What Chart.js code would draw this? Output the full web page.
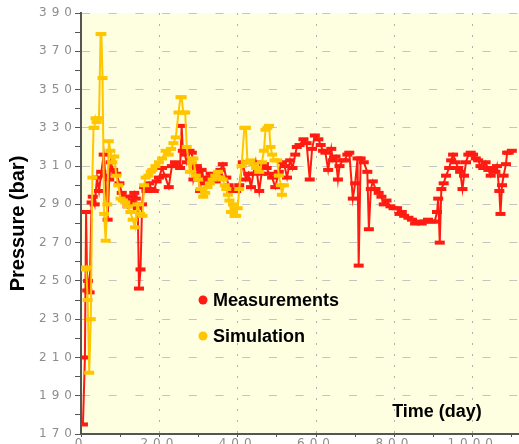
<!DOCTYPE html>
<html><head><meta charset="utf-8">
<script src="https://cdn.jsdelivr.net/npm/chart.js@4/dist/chart.umd.min.js"></script>
<style>
html,body{margin:0;padding:0;background:#fff;overflow:hidden;}
#wrap{position:relative;width:519px;height:444px;overflow:hidden;}
#box{position:absolute;left:0;top:0;width:560px;height:470px;}
</style></head><body>
<div id="wrap"><div id="box"><canvas id="c" width="560" height="470"></canvas></div></div>
<script>
const seriesNames = ['Measurements', 'Simulation'];
const xTitle = 'Time (day)';
const yTitle = 'Pressure (bar)';
const xLabelValues = [0, 200, 400, 600, 800, 1000];
const yLabelValues = [170, 190, 210, 230, 250, 270, 290, 310, 330, 350, 370, 390];

const measDays = [5,10,13,16,18,22,27,30,35,41,46,52,58,62,68,72,76,82,90,98,104,111,119,124,127,132,136,140,145,148,152,156,161,167,174,180,186,193,199,207,214,224,232,240,247,253,257,260,265,270,277,283,287,295,300,304,308,312,318,325,331,337,344,350,356,362,371,377,383,390,396,404,413,421,427,434,440,446,455,461,467,474,480,488,496,505,513,520,526,534,540,547,551,558,568,576,584,590,597,606,612,618,624,631,639,643,650,656,660,668,673,680,685,694,700,706,709,714,722,731,735,740,745,752,760,767,773,780,790,798,807,813,819,825,836,845,853,861,870,878,886,895,903,909,912,916,920,926,932,940,945,950,957,963,968,974,978,983,989,995,1001,1008,1014,1020,1027,1033,1040,1046,1052,1058,1062,1068,1071,1075,1079,1085,1088,1092,1100];
const measVals = [175,210,286,245,250,244,291,294,290,304,297,307,316,305,282,303,312,308,306,301,296,294,289,292,291,294,296,293,288,246,256,290,299,297,301,298,297,302,304,309,305,299,310,312,310,309,331,318,316,312,318,317,303,310,306,297,308,304,301,303,306,304,302,306,308,311,304,300,297,298,297,300,312,303,306,299,306,312,297,306,311,309,306,304,299,307,312,310,304,313,309,316,320,321,324,322,303,319,326,324,321,318,317,308,319,313,315,303,310,313,313,316,317,293,301,314,258,314,312,307,277,298,302,298,296,294,290,292,289,288,288,285,286,284,283,282,280,281,280,281,282,281,281,286,293,270,298,301,305,309,313,316,312,309,307,298,305,312,316,317,316,314,313,310,309,312,308,305,309,307,310,297,285,300,305,311,317,317,318];

const simDays = [10,13,17,21,25,29,32,34,37,40,46,50,52,55,59,63,67,71,75,80,85,90,95,101,107,113,120,126,132,138,144,151,157,161,165,172,178,182,190,199,207,216,224,230,236,242,249,254,257,261,266,270,278,283,287,293,299,305,312,317,323,329,336,343,350,356,362,367,371,375,379,383,388,392,396,400,404,410,417,421,425,432,440,447,455,462,467,471,476,480,484,488,494,501,505,510,513,518];
const simVals = [256,257,240,202,230,304,330,330,335,333,335,379,379,356,285,271,290,323,318,312,315,305,300,293,292,291,289,286,282,278,290,285,284,300,304,305,307,308,310,312,314,318,316,319,322,325,338,346,346,338,338,320,307,312,314,305,303,298,294,296,299,301,303,305,307,304,303,300,298,295,292,286,290,284,284,288,298,310,330,330,312,313,311,309,307,312,318,329,330,331,320,316,313,313,305,300,295,300];

const RED = '#ff1a12';
const GOLD = '#ffc600';
const PLOT_BG = '#fefee0';

const bgPlugin = {
  id: 'bg',
  beforeDraw(chart) {
    const {ctx, chartArea: a} = chart;
    ctx.save();
    ctx.fillStyle = '#ffffff';
    ctx.fillRect(0, 0, chart.width, chart.height);
    ctx.fillStyle = PLOT_BG;
    ctx.fillRect(a.left, a.top, a.right - a.left, a.bottom - a.top);
    ctx.restore();
  },
  afterDatasetsDraw(chart) {
    chart.ctx.letterSpacing = '5px';
  },
  afterDraw(chart) {
    const ctx = chart.ctx;
    ctx.letterSpacing = '0px';
    ctx.save();
    const items = [[RED, 300], [GOLD, 336]];
    ctx.font = 'bold 18px "Liberation Sans", Arial, sans-serif';
    ctx.textBaseline = 'middle';
    ctx.textAlign = 'left';
    items.forEach((it, i) => {
      ctx.fillStyle = it[0];
      ctx.beginPath();
      ctx.arc(203, it[1], 4.5, 0, Math.PI * 2);
      ctx.fill();
      ctx.fillStyle = '#000';
      ctx.fillText(seriesNames[i], 213, it[1] + 1);
    });
    ctx.textAlign = 'center';
    ctx.fillText(xTitle, 437, 412);
    ctx.restore();
  }
};

const mk = (d, v) => d.map((x, i) => ({x: x, y: v[i]}));

new Chart(document.getElementById('c'), {
  type: 'line',
  data: {
    datasets: [
      {label: seriesNames[0], data: mk(measDays, measVals), borderColor: RED, backgroundColor: RED,
       borderWidth: 2, pointStyle: 'line', pointRadius: 5, pointBorderWidth: 4, pointBorderColor: RED,
       pointHoverRadius: 5, tension: 0, order: 2},
      {label: seriesNames[1], data: mk(simDays, simVals), borderColor: GOLD, backgroundColor: GOLD,
       borderWidth: 2, pointStyle: 'line', pointRadius: 5, pointBorderWidth: 4, pointBorderColor: GOLD,
       pointHoverRadius: 5, tension: 0, order: 1}
    ]
  },
  options: {
    responsive: false,
    animation: false,
    devicePixelRatio: 1,
    events: [],
    layout: {padding: {left: 0, top: 13, right: 2, bottom: 0}},
    plugins: {legend: {display: false}, tooltip: {enabled: false}},
    scales: {
      x: {
        type: 'linear', min: 0, max: 1200,
        afterFit(s) { s.height = 36; },
        ticks: {
          stepSize: 100, autoSkip: false, maxRotation: 0, padding: 0, z: 1,
          callback: (v) => xLabelValues.includes(v) ? String(v) : '',
          font: {family: 'DejaVu Sans', size: 12}, color: '#8c8c8c'
        },
        grid: {
          color: (c) => (c.tick && c.tick.value > 0 && xLabelValues.includes(c.tick.value)) ? '#b0b0b0' : 'rgba(0,0,0,0)',
          lineWidth: 1, tickColor: '#555', tickLength: 3
        },
        border: {color: '#555', width: 2, dash: [2, 9]}
      },
      y: {
        min: 170, max: 390,
        afterFit(s) { s.width = 81; },
        ticks: {
          stepSize: 10, autoSkip: false, padding: -2, z: 1,
          callback: (v) => yLabelValues.includes(v) ? String(v) : '',
          font: {family: 'DejaVu Sans', size: 12}, color: '#8c8c8c'
        },
        grid: {
          color: (c) => (c.tick && yLabelValues.includes(c.tick.value) && c.tick.value > 170) ? '#c4c4c4' : 'rgba(0,0,0,0)',
          lineWidth: 1, tickColor: '#555', tickLength: 6
        },
        border: {color: '#555', width: 2, dash: [8, 18.7]},
        title: {display: true, text: yTitle, color: '#000', padding: {top: 6, bottom: 0},
                font: {family: 'Liberation Sans', size: 20, weight: 'bold'}}
      }
    }
  },
  plugins: [bgPlugin]
});
</script>
</body></html>
